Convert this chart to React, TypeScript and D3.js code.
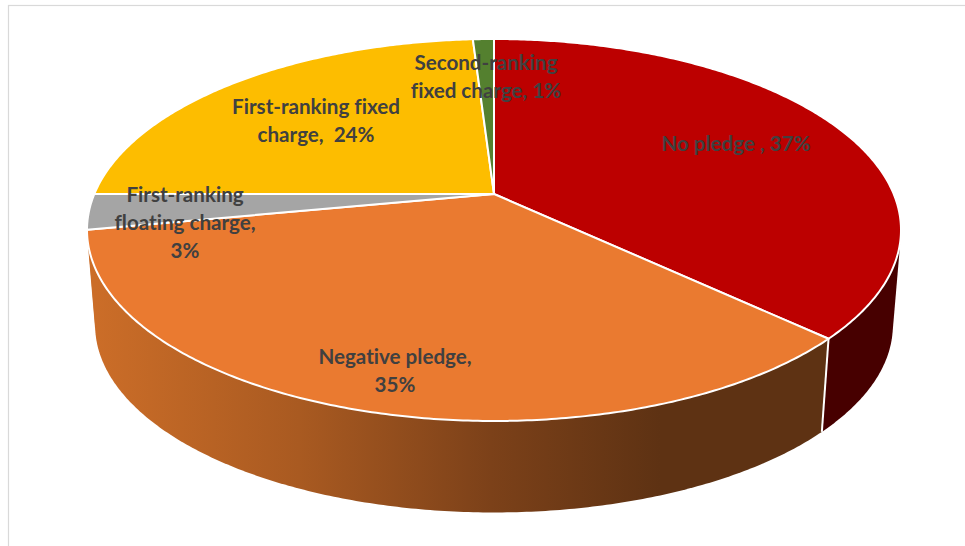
import React from "react";
import * as d3 from "d3";

// Collateral types and their shares of the total, in percent
const categories = [
  "No pledge",
  "Negative pledge",
  "First-ranking floating charge",
  "First-ranking fixed charge",
  "Second-ranking fixed charge",
];
const shares = [37, 35, 3, 24, 1];
const sliceColors = ["#bc0000", "#ea7a30", "#a5a5a5", "#fdbd00", "#54802f"];
const labelLines = [
  ["No pledge , 37%"],
  ["Negative pledge,", "35%"],
  ["First-ranking", "floating charge,", "3%"],
  ["First-ranking fixed", "charge,  24%"],
  ["Second-ranking", "fixed charge, 1%"],
];
const labelAnchors: [number, number][] = [
  [736, 151],
  [395, 364],
  [185, 202],
  [316, 114],
  [486, 70],
];

const WIDTH = 965;
const HEIGHT = 546;
const LINE_GAP = 28;

// Tilted disc under perspective: v runs from far (-1) to near (+1) edge
const CX = 494;
const TOP_CY = 194;
const RX = 399.7;
const RY = 184.2;
const PERSPECTIVE = 0.1885;
// The underside sits lower and slightly smaller, being further from the eye
const BASE_CY = 290;
const BASE_SCALE = 0.98;

const project = (angle: number, cy: number, scale: number): [number, number] => {
  const u = Math.sin(angle);
  const v = -Math.cos(angle);
  const w = 1 - PERSPECTIVE * v;
  return [CX + (scale * RX * u) / w, cy + (scale * RY * v) / w];
};

const arcAngles = (a0: number, a1: number) => {
  const steps = Math.max(2, Math.ceil((a1 - a0) / 0.01));
  return d3.range(steps + 1).map((i) => a0 + ((a1 - a0) * i) / steps);
};

const pieLayout = d3
  .pie<number>()
  .sort(null)
  .value((d) => d)
  .startAngle(0)
  .endAngle(2 * Math.PI);

const toPath = d3.line().curve(d3.curveLinear);

export default function App() {
  const slices = pieLayout(shares);

  // Only the near half of the rim is visible; clip each wall just past the side extremes
  const wallStart = Math.PI / 2 - 0.25;
  const wallEnd = 1.5 * Math.PI + 0.25;
  const walls = slices
    .map((s, i) => {
      const a0 = Math.max(s.startAngle, wallStart);
      const a1 = Math.min(s.endAngle, wallEnd);
      if (a1 <= a0) return null;
      const pts = arcAngles(a0, a1).flatMap((a) => [
        project(a, TOP_CY, 1),
        project(a, BASE_CY, BASE_SCALE),
      ]);
      return { i, hull: d3.polygonHull(pts) as [number, number][] };
    })
    .filter(Boolean) as { i: number; hull: [number, number][] }[];

  const boundary = slices[0].endAngle;

  return (
    <svg
      width={WIDTH}
      height={HEIGHT}
      viewBox={`0 0 ${WIDTH} ${HEIGHT}`}
      style={{ position: "absolute", left: 0, top: 0, display: "block" }}
    >
      <defs>
        <linearGradient id="wallOrange" gradientUnits="userSpaceOnUse" x1={96} x2={660} y1={0} y2={0}>
          <stop offset="0" stopColor="#cb6d28" />
          <stop offset="0.36" stopColor="#a95a21" />
          <stop offset="0.7" stopColor="#7c4119" />
          <stop offset="1" stopColor="#5e3213" />
        </linearGradient>
      </defs>
      <rect width={WIDTH} height={HEIGHT} fill="#fff" />
      <rect x={8.5} y={5.5} width={WIDTH + 20} height={HEIGHT + 20} fill="#fff" stroke="#d9d9d9" strokeWidth={1.2} />

      {walls.map(({ i, hull }) => (
        <path
          key={categories[i]}
          d={toPath(hull) + "Z"}
          fill={i === 0 ? "#470000" : "url(#wallOrange)"}
        />
      ))}
      <path
        d={toPath([project(boundary, TOP_CY, 1), project(boundary, BASE_CY, BASE_SCALE)]) as string}
        stroke="#fff"
        strokeWidth={2}
        fill="none"
      />

      {slices.map((s, i) => (
        <path
          key={categories[i]}
          d={toPath([[CX, TOP_CY], ...arcAngles(s.startAngle, s.endAngle).map((a) => project(a, TOP_CY, 1))]) + "Z"}
          fill={sliceColors[i]}
          stroke="#fff"
          strokeWidth={2}
          strokeLinejoin="round"
        />
      ))}

      {labelLines.map((lines, i) => (
        <text
          key={categories[i]}
          textAnchor="middle"
          fontFamily="Lato, 'Open Sans', sans-serif"
          fontWeight={700}
          fontSize={20.6}
          fill="#404040"
          style={{ whiteSpace: "pre", fontVariantLigatures: "none" }}
        >
          {lines.map((line, j) => (
            <tspan key={j} x={labelAnchors[i][0]} y={labelAnchors[i][1] + j * LINE_GAP}>
              {line}
            </tspan>
          ))}
        </text>
      ))}
    </svg>
  );
}
